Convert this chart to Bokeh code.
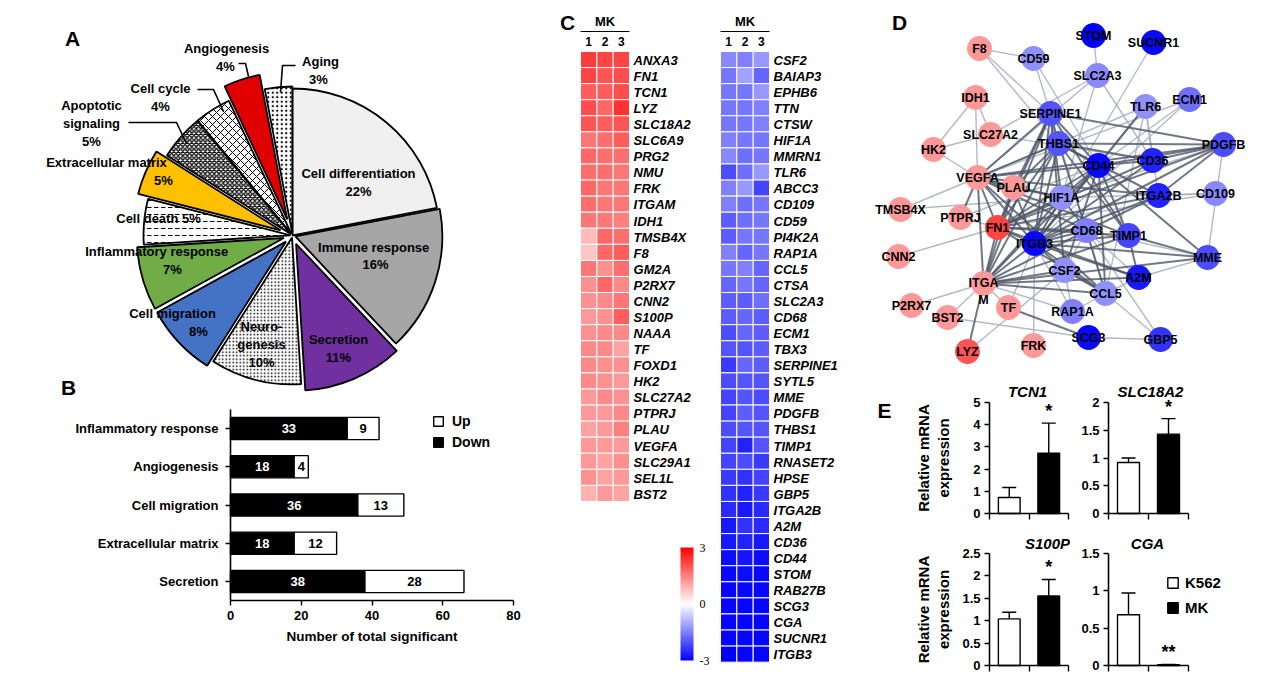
import numpy as np
from bokeh.plotting import figure
from bokeh.models import (Range1d, ColumnDataSource, LinearColorMapper, ColorBar,
                          FixedTicker, Legend, LegendItem, Whisker, TeeHead, LinearAxis,
                          CustomJSTickFormatter)
from bokeh.layouts import row, column
from bokeh.embed import file_html
from bokeh.resources import INLINE
from bokeh.core.properties import value

FONT = "Liberation Sans"

# ======================= DATA =======================
# Panel A: GO categories (pie)
pie_labels = ["Cell differentiation", "Immune response", "Secretion", "Neurogenesis",
              "Cell migration", "Inflammatory response", "Cell death", "Extracellular matrix",
              "Apoptotic signaling", "Cell cycle", "Angiogenesis", "Aging"]
pie_pct = [22, 16, 11, 10, 8, 7, 5, 5, 5, 4, 4, 3]

# Panel B: number of significant genes
bar_cats = ["Inflammatory response", "Angiogenesis", "Cell migration",
            "Extracellular matrix", "Secretion"]
bar_down = [33, 18, 36, 18, 38]
bar_up = [9, 4, 13, 12, 28]
bar_ticks = [0, 20, 40, 60, 80]

# Panel C: heatmaps (MK replicates 1,2,3)
up_genes = ["ANXA3", "FN1", "TCN1", "LYZ", "SLC18A2", "SLC6A9", "PRG2", "NMU", "FRK", "ITGAM",
            "IDH1", "TMSB4X", "F8", "GM2A", "P2RX7", "CNN2", "S100P", "NAAA", "TF", "FOXD1",
            "HK2", "SLC27A2", "PTPRJ", "PLAU", "VEGFA", "SLC29A1", "SEL1L", "BST2"]
up_mk1 = [2.3, 2.2, 1.9, 2.1, 2.0, 1.6, 1.8, 1.7, 1.8, 1.7, 1.6, 0.8, 0.7, 1.6, 1.3, 1.3, 1.2,
          1.3, 1.4, 1.4, 1.4, 1.2, 1.2, 1.1, 1.2, 1.2, 1.3, 0.9]
up_mk2 = [2.2, 2.0, 1.9, 1.8, 1.9, 1.7, 1.7, 1.7, 1.6, 1.6, 1.6, 1.8, 1.8, 1.3, 1.8, 1.4, 1.3,
          1.4, 1.4, 1.3, 1.3, 1.4, 1.2, 1.2, 1.2, 1.1, 1.1, 1.2]
up_mk3 = [2.2, 2.1, 2.1, 2.4, 2.0, 1.9, 1.7, 1.6, 1.6, 1.6, 1.5, 1.7, 1.9, 1.7, 1.4, 1.6, 1.9,
          1.4, 1.1, 1.3, 1.2, 1.3, 1.4, 1.5, 1.2, 1.3, 1.2, 1.1]

down_genes = ["CSF2", "BAIAP3", "EPHB6", "TTN", "CTSW", "HIF1A", "MMRN1", "TLR6", "ABCC3", "CD109",
              "CD59", "PI4K2A", "RAP1A", "CCL5", "CTSA", "SLC2A3", "CD68", "ECM1", "TBX3",
              "SERPINE1", "SYTL5", "MME", "PDGFB", "THBS1", "TIMP1", "RNASET2", "HPSE", "GBP5",
              "ITGA2B", "A2M", "CD36", "CD44", "STOM", "RAB27B", "SCG3", "CGA", "SUCNR1", "ITGB3"]
down_mk1 = [-1.4, -1.6, -1.6, -1.6, -1.6, -1.5, -1.4, -2.1, -1.5, -1.5, -1.9, -1.9, -1.5, -1.6,
            -1.8, -1.9, -1.9, -2.1, -2.0, -2.3, -2.1, -2.2, -2.2, -2.1, -2.2, -2.2, -2.3, -2.4,
            -2.5, -2.7, -2.7, -2.85, -2.9, -2.95, -2.95, -2.95, -2.95, -3.0]
down_mk2 = [-1.5, -1.1, -1.6, -1.6, -1.6, -1.6, -1.7, -1.7, -1.2, -1.7, -1.7, -1.6, -1.8, -1.5,
            -1.6, -1.9, -1.8, -1.8, -2.0, -1.8, -2.0, -2.0, -1.9, -2.0, -2.6, -2.1, -2.4, -2.6,
            -2.7, -2.4, -2.6, -2.75, -2.85, -2.9, -2.95, -2.95, -2.95, -2.95]
down_mk3 = [-1.2, -1.8, -1.2, -1.5, -1.5, -1.6, -1.6, -1.2, -2.2, -1.6, -1.6, -1.6, -1.6, -1.8,
            -1.8, -1.7, -1.9, -1.9, -1.9, -1.9, -2.0, -2.1, -2.0, -2.0, -2.0, -2.3, -2.2, -2.3,
            -2.5, -2.5, -2.7, -2.85, -2.9, -2.9, -2.95, -2.95, -2.95, -2.95]

# Panel D: interaction network (layout position, fold change colour)
net_nodes = ["STOM", "SUCNR1", "F8", "CD59", "SLC2A3", "IDH1", "SERPINE1", "TLR6", "ECM1",
             "SLC27A2", "HK2", "THBS1", "CD44", "CD36", "PDGFB", "VEGFA", "PLAU", "HIF1A",
             "ITGA2B", "CD109", "TMSB4X", "PTPRJ", "FN1", "CD68", "ITGB3", "TIMP1", "MME",
             "CNN2", "CSF2", "A2M", "ITGAM", "CCL5", "P2RX7", "TF", "BST2", "RAP1A", "SCG3",
             "GBP5", "LYZ", "FRK"]
net_x = [1093, 1153, 979, 1033, 1097, 975, 1050, 1145, 1189, 990, 933, 1058, 1098, 1152, 1223,
         977, 1013, 1061, 1158, 1215, 900, 960, 997, 1086, 1034, 1128, 1207, 898, 1064, 1138,
         983, 1105, 911, 1008, 947, 1072, 1088, 1160, 967, 1033]
net_y = [35, 42, 48, 58, 75, 97, 113, 106, 99, 134, 149, 143, 165, 160, 144, 177, 187, 197, 195,
         193, 209, 217, 227, 230, 243, 235, 257, 256, 270, 277, 283, 293, 305, 307, 317, 311,
         337, 339, 351, 345]
net_fc = [-3.0, -2.9, 1.2, -1.3, -1.4, 1.2, -2.0, -1.3, -1.7, 1.2, 1.2, -2.0, -2.9, -2.6, -2.1,
          1.2, 1.2, -1.3, -2.6, -1.4, 1.2, 1.2, 2.2, -1.5, -2.9, -2.2, -2.1, 1.2, -1.3, -2.7,
          1.2, -1.3, 1.2, 1.2, 1.2, -1.5, -2.9, -2.4, 2.0, 1.2]
net_edges_strong = [
    ("ITGB3", "FN1"), ("ITGB3", "VEGFA"), ("ITGB3", "SERPINE1"), ("ITGB3", "THBS1"),
    ("ITGB3", "CD44"), ("ITGB3", "CD36"), ("ITGB3", "PDGFB"), ("ITGB3", "ITGA2B"),
    ("ITGB3", "HIF1A"), ("ITGB3", "PLAU"), ("ITGB3", "ITGAM"), ("ITGB3", "CD68"),
    ("ITGB3", "TIMP1"), ("ITGB3", "MME"), ("ITGB3", "A2M"), ("ITGB3", "CCL5"),
    ("ITGB3", "CSF2"), ("ITGB3", "TLR6"),
    ("FN1", "VEGFA"), ("FN1", "SERPINE1"), ("FN1", "THBS1"), ("FN1", "CD44"), ("FN1", "ITGAM"),
    ("FN1", "PLAU"), ("FN1", "HIF1A"), ("FN1", "CD68"), ("FN1", "TIMP1"), ("FN1", "ITGA2B"),
    ("FN1", "PDGFB"), ("FN1", "A2M"), ("FN1", "CCL5"), ("FN1", "CD36"),
    ("VEGFA", "SERPINE1"), ("VEGFA", "THBS1"), ("VEGFA", "PLAU"), ("VEGFA", "HIF1A"),
    ("VEGFA", "CD44"), ("VEGFA", "ITGAM"), ("VEGFA", "PDGFB"), ("VEGFA", "ITGA2B"),
    ("VEGFA", "TIMP1"), ("VEGFA", "CD68"), ("VEGFA", "PTPRJ"), ("VEGFA", "CCL5"),
    ("SERPINE1", "THBS1"), ("SERPINE1", "PLAU"), ("SERPINE1", "HIF1A"), ("SERPINE1", "CD44"),
    ("SERPINE1", "TIMP1"), ("SERPINE1", "ITGAM"), ("SERPINE1", "PDGFB"), ("SERPINE1", "CSF2"),
    ("THBS1", "CD44"), ("THBS1", "CD36"), ("THBS1", "PDGFB"), ("THBS1", "PLAU"),
    ("THBS1", "TIMP1"), ("THBS1", "ITGA2B"), ("THBS1", "ITGAM"), ("THBS1", "CD68"),
    ("CD44", "HIF1A"), ("CD44", "ITGAM"), ("CD44", "CCL5"), ("CD44", "TIMP1"), ("CD44", "MME"),
    ("CD44", "CSF2"), ("CD44", "CD36"), ("CD44", "PDGFB"),
    ("ITGAM", "CD68"), ("ITGAM", "TIMP1"), ("ITGAM", "CCL5"), ("ITGAM", "CSF2"),
    ("ITGAM", "PLAU"), ("ITGAM", "A2M"), ("ITGAM", "LYZ"), ("ITGAM", "HIF1A"), ("ITGAM", "MME"),
    ("CD36", "PDGFB"), ("ITGA2B", "PDGFB"), ("ITGA2B", "CD68"), ("HIF1A", "CD68"),
    ("TIMP1", "A2M"), ("CCL5", "CSF2"), ("TF", "SCG3"), ("CD68", "CCL5"), ("TIMP1", "MME"),
    ("PLAU", "HIF1A")]
net_edges_weak = [
    ("F8", "CD59"), ("F8", "SERPINE1"), ("F8", "THBS1"), ("STOM", "SLC2A3"), ("SUCNR1", "ITGB3"),
    ("CD59", "CD44"), ("SLC2A3", "VEGFA"), ("SLC2A3", "HIF1A"), ("SLC2A3", "CD36"),
    ("IDH1", "HK2"), ("IDH1", "SLC27A2"), ("IDH1", "VEGFA"), ("SLC27A2", "HK2"),
    ("SLC27A2", "CD36"), ("SLC27A2", "SLC2A3"), ("HK2", "VEGFA"), ("TLR6", "CD36"),
    ("TLR6", "CD44"), ("TLR6", "CCL5"), ("TLR6", "VEGFA"), ("ECM1", "CD44"), ("ECM1", "ITGB3"),
    ("CD109", "ITGA2B"), ("CD109", "FN1"), ("TMSB4X", "VEGFA"), ("TMSB4X", "HIF1A"),
    ("PTPRJ", "FN1"), ("PTPRJ", "CD44"), ("CNN2", "FN1"), ("P2RX7", "ITGAM"), ("BST2", "ITGAM"),
    ("BST2", "SCG3"), ("TF", "ITGAM"), ("TF", "ITGB3"), ("FRK", "ITGB3"), ("LYZ", "CSF2"),
    ("RAP1A", "ITGAM"), ("RAP1A", "CSF2"), ("RAP1A", "CCL5"), ("RAP1A", "ITGB3"),
    ("CCL5", "GBP5"), ("SCG3", "GBP5"), ("GBP5", "CD68"), ("MME", "CD68"), ("MME", "A2M"),
    ("A2M", "CD68"), ("A2M", "CCL5"), ("CSF2", "CD68"), ("PDGFB", "HIF1A"), ("PDGFB", "MME"),
    ("CD109", "HIF1A"), ("TLR6", "ITGA2B"), ("CD59", "CCL5"), ("ECM1", "VEGFA")]

# Panel E: qPCR
qpcr_genes = ["TCN1", "SLC18A2", "S100P", "CGA"]
qpcr_groups = ["K562", "MK"]
qpcr_k562_mean = [0.72, 0.92, 1.04, 0.68]
qpcr_k562_sd = [0.45, 0.08, 0.15, 0.29]
qpcr_mk_mean = [2.72, 1.43, 1.55, 0.01]
qpcr_mk_sd = [1.35, 0.28, 0.37, 0.005]
qpcr_sig = ["*", "*", "*", "**"]
qpcr_ymax = [5, 2, 2.5, 1.5]
qpcr_ystep = [1, 0.5, 0.5, 0.5]

# ======================= STYLE HELPERS =======================
def bwr(n=256):
    cols = []
    for t in np.linspace(0, 1, n):
        if t < 0.5:
            f = t / 0.5
            r = g = int(round(255 * f)); b = 255
        else:
            f = (1 - t) / 0.5
            r = 255; g = b = int(round(255 * f))
        cols.append("#%02x%02x%02x" % (r, g, b))
    return cols

mapper = LinearColorMapper(palette=bwr(), low=-3, high=3)

def canvas(w, h, xr, yr):
    p = figure(width=w, height=h, x_range=Range1d(*xr), y_range=Range1d(*yr),
               x_axis_location=None, y_axis_location=None, min_border=0,
               output_backend="svg", toolbar_location=None)
    p.outline_line_color = None
    p.background_fill_color = "white"
    p.border_fill_color = "white"
    p.xgrid.visible = False
    p.ygrid.visible = False
    p.grid.visible = False
    return p

def txt(p, xs, ys, texts, size="13px", style="bold", color="black", align="center",
        baseline="middle", font=FONT):
    p.text(x=list(xs), y=list(ys), text=list(texts), text_font=value(font),
           text_font_style=style, text_font_size=size, text_color=color,
           text_align=align, text_baseline=baseline)

def style_axis(ax, label_size="13px", tick_out=5):
    ax.axis_line_width = 1.6
    ax.axis_line_color = "black"
    ax.major_tick_line_width = 1.4
    ax.major_tick_line_color = "black"
    ax.minor_tick_line_color = None
    ax.major_tick_out = tick_out
    ax.major_tick_in = 0
    ax.major_label_text_font = FONT
    ax.major_label_text_font_style = "bold"
    ax.major_label_text_font_size = label_size
    ax.major_label_text_color = "black"
    ax.axis_label_text_font = FONT
    ax.axis_label_text_font_style = "bold"
    ax.axis_label_text_color = "black"

def pix_ranges(left, top, w, h, x0px, sx, y0px, sy):
    """data ranges so that value 0 sits at page pixel (x0px, y0px), sx/sy px per unit"""
    xr = ((left - x0px) / sx, (left + w - x0px) / sx)
    yr = ((y0px - (top + h)) / sy, (y0px - top) / sy)
    return xr, yr

# ======================= PANEL A (pie) =======================
pA = canvas(560, 398, (0, 560), (-398, 0))
frac = np.array(pie_pct, float) / sum(pie_pct)
cum = np.concatenate([[0], np.cumsum(frac)])
start = np.pi / 2 - 2 * np.pi * cum[1:]
end = np.pi / 2 - 2 * np.pi * cum[:-1]
mid = (start + end) / 2
explode = np.array([0, 3, 9, 2, 9, 9, 2, 13, 2, 2, 17, 2], float)
PCX, PCY, PR = 292, -235, 147
fills = ["#f0f0f0", "#a6a6a6", "#7030a0", "white", "#4472c4", "#70ad47", "white", "#ffc000",
         "white", "white", "#e00000", "white"]
hatches = [" ", " ", " ", "dot", " ", " ", "horizontal_dash", " ", "diagonal_cross",
           "diagonal_cross", " ", "dot"]
hscale = [6, 6, 6, 3.5, 6, 6, 7, 6, 4.5, 8, 6, 4.5]
hweight = [1, 1, 1, 1.1, 1, 1, 1, 1, 1.4, 1, 1, 1.2]
srcA = ColumnDataSource(dict(cx=PCX + explode * np.cos(mid), cy=PCY + explode * np.sin(mid),
                             start=start, end=end, fill=fills, hatch=hatches,
                             hs=hscale, hw=hweight))
pA.wedge(x="cx", y="cy", radius=PR, start_angle="start", end_angle="end",
         direction="anticlock", fill_color="fill", line_color="black", line_width=1.8,
         hatch_pattern="hatch", hatch_scale="hs", hatch_weight="hw", hatch_color="black",
         source=srcA)

# label layout (page-pixel coordinates)
name_disp = {"Neurogenesis": "Neuro-\ngenesis", "Apoptotic signaling": "Apoptotic\nsignaling",
             "Immune response": "Immune  response",
             "Inflammatory response": "Inflammatory  response"}
name_pos = [(358, 173), (375, 247), (338, 339), (261, 335), (172, 313), (158, 251), (158, 218),
            (106, 162), (91, 114), (160, 88), (226, 48), (320, 61)]
pct_pos = [(358, 191), (375, 264), (338, 357), (261, 362), (198, 331), (172, 269), None,
           (163, 180), (91, 141), (160, 106), (225, 66), (318, 79)]
tx, ty, tt = [], [], []
for lab, pc, npos, ppos in zip(pie_labels, pie_pct, name_pos, pct_pos):
    s = name_disp.get(lab, lab)
    if ppos is None:
        s = f"{s} {pc}%"
    tx.append(npos[0]); ty.append(-npos[1]); tt.append(s)
    if ppos is not None:
        tx.append(ppos[0]); ty.append(-ppos[1]); tt.append(f"{pc}%")
txt(pA, tx, ty, tt, size="13px")

leaders_x = [[238, 245, 248], [295, 282, 280], [197, 213, 223], [128, 176, 186]]
leaders_y = [[63, 63, 76], [65, 65, 92], [89, 89, 111], [122, 122, 143]]
pA.multi_line(xs=leaders_x, ys=[[-v for v in l] for l in leaders_y], line_color="black",
              line_width=1.6)
txt(pA, [72, 68], [-38, -387], ["A", "B"], size="21px")

# ======================= PANEL B (bars) =======================
# page geometry: x=0 at px 230, 80 at px 513; category rows centred at 428 + 38.25*i
B_X0, B_SX = 230, (513 - 230) / 80.0
B_Y0, B_SY = 428, 38.25
pB = canvas(560, 286, ((0 - B_X0) / B_SX, (560 - B_X0) / B_SX),
            ((684 - B_Y0) / B_SY, (398 - B_Y0) / B_SY))
ypos = np.arange(len(bar_cats), dtype=float)
down_a = np.array(bar_down, float); up_a = np.array(bar_up, float)
srcB = ColumnDataSource(dict(y=ypos, down=down_a, up=up_a, dmid=down_a / 2,
                             umid=down_a + up_a / 2, dtxt=[str(v) for v in bar_down],
                             utxt=[str(v) for v in bar_up]))
rB = pB.hbar_stack(["down", "up"], y="y", height=0.58, fill_color=["black", "white"],
                   line_color="black", line_width=1.4, source=srcB)
for col, tcol, c in (("dmid", "dtxt", "white"), ("umid", "utxt", "black")):
    pB.text(x=col, y="y", text=tcol, source=srcB, text_color=c,
            text_font=value(FONT), text_font_style="bold", text_font_size="13px",
            text_align="center", text_baseline="middle")
legB = Legend(items=[LegendItem(label="Up", renderers=[rB[1]]),
                     LegendItem(label="Down", renderers=[rB[0]])],
              location=(432, 234), label_text_font=FONT, label_text_font_style="bold",
              label_text_font_size="14px", label_text_color="black",
              glyph_width=12, glyph_height=12, spacing=5,
              padding=0, margin=0, border_line_color=None, background_fill_alpha=0,
              label_standoff=8, label_height=16)
pB.add_layout(legB)
n_b = len(bar_cats)
xaxB = LinearAxis(fixed_location=n_b - 0.5, bounds=(bar_ticks[0], bar_ticks[-1]),
                  ticker=FixedTicker(ticks=bar_ticks), axis_label="Number of total significant")
style_axis(xaxB)
xaxB.axis_label_text_font_size = "13.5px"
xaxB.axis_label_standoff = 6
pB.add_layout(xaxB, "below")
yaxB = LinearAxis(fixed_location=0, bounds=(-0.5, n_b - 0.5),
                  ticker=FixedTicker(ticks=list(ypos)),
                  formatter=CustomJSTickFormatter(args=dict(names=bar_cats),
                                                  code="return names[Math.round(tick)] || ''"))
style_axis(yaxB)
yaxB.major_label_standoff = 7
pB.add_layout(yaxB, "left")

# ======================= PANEL C (heatmaps) =======================
pC = canvas(290, 684, (560, 850), (684, 0))
CW, RH, TOP = 16.35, 16.07, 51

def heat(genes, reps, x0):
    vals = np.array(reps, float).T
    n = len(genes)
    ii, jj = np.meshgrid(np.arange(n), np.arange(3), indexing="ij")
    src = ColumnDataSource(dict(x=x0 + (jj.ravel() + 0.5) * CW, y=TOP + (ii.ravel() + 0.5) * RH,
                                v=vals.ravel()))
    pC.rect("x", "y", width=CW, height=RH, source=src,
            fill_color={"field": "v", "transform": mapper}, line_color="white", line_width=1)
    txt(pC, [x0 + 3 * CW + 4] * n, TOP + (np.arange(n) + 0.55) * RH, genes, size="13px",
        style="bold italic", align="left")
    txt(pC, [x0 + 1.5 * CW], [21], ["MK"], size="13px")
    pC.line(x=[x0, x0 + 3 * CW], y=[31, 31], line_color="black", line_width=1.2)
    txt(pC, x0 + (np.arange(3) + 0.5) * CW, [41] * 3, ["1", "2", "3"], size="12px")

heat(up_genes, [up_mk1, up_mk2, up_mk3], 580)
heat(down_genes, [down_mk1, down_mk2, down_mk3], 720)
txt(pC, [567], [22], ["C"], size="21px")
cb = ColorBar(color_mapper=mapper, location=(120, 24), width=13, height=113, padding=0,
              margin=0, ticker=FixedTicker(ticks=[-3, 0, 3]),
              formatter=CustomJSTickFormatter(code="return tick.toFixed(0)"),
              major_label_text_font="Liberation Serif", major_label_text_font_size="12px",
              major_label_text_color="black",
              major_tick_line_color=None, minor_tick_line_color=None, bar_line_color=None,
              border_line_color=None, background_fill_alpha=0, label_standoff=6)
pC.add_layout(cb)

# ======================= PANEL D (network) =======================
pD = canvas(412, 370, (850, 1262), (370, 0))
nx_a = np.array(net_x, float); ny_a = np.array(net_y, float)
nid = {n: i for i, n in enumerate(net_nodes)}

def edge_src(edges):
    a = [nid[e[0]] for e in edges]; b = [nid[e[1]] for e in edges]
    return ColumnDataSource(dict(x0=nx_a[a], y0=ny_a[a], x1=nx_a[b], y1=ny_a[b]))

pD.segment("x0", "y0", "x1", "y1", source=edge_src(net_edges_weak), line_color="#a8adbb",
           line_alpha=0.85, line_width=1.4)
pD.segment("x0", "y0", "x1", "y1", source=edge_src(net_edges_strong), line_color="#4e5667",
           line_alpha=0.8, line_width=2.0)
srcD = ColumnDataSource(dict(x=nx_a, y=ny_a, fc=net_fc))
pD.circle("x", "y", radius=12.5, source=srcD, fill_color={"field": "fc", "transform": mapper},
          line_color=None)
lab_disp = {"ITGAM": "ITGA\nM"}
lab_dy = {"ITGAM": 8}
txt(pD, nx_a, [y + lab_dy.get(n, 0) for n, y in zip(net_nodes, ny_a)],
    [lab_disp.get(n, n) for n in net_nodes], size="12.5px")
txt(pD, [899], [22], ["D"], size="21px")

# ======================= PANEL E (qPCR) =======================
def qpcr(i, left, top, w, h, x0px, sx, y0px, ymax_px, title_px, ylabel, lab_standoff):
    ymax, step = qpcr_ymax[i], qpcr_ystep[i]
    sy = (y0px - ymax_px) / ymax
    xr, yr = pix_ranges(left, top, w, h, x0px, sx, y0px, sy)
    p = canvas(w, h, xr, yr)
    means = np.array([qpcr_k562_mean[i], qpcr_mk_mean[i]])
    sds = np.array([qpcr_k562_sd[i], qpcr_mk_sd[i]])
    src = ColumnDataSource(dict(x=np.arange(2) + 0.5, mean=means, upper=means + sds,
                                fill=["white", "black"], grp=qpcr_groups))
    r = p.vbar(x="x", top="mean", width=0.55, fill_color="fill", line_color="black",
               line_width=1.4, source=src)
    p.add_layout(Whisker(source=src, base="x", upper="upper", lower="mean",
                         dimension="height", line_width=1.4, line_color="black",
                         upper_head=TeeHead(size=14, line_width=1.4, line_color="black"),
                         lower_head=None))
    p.text(x=[1.5], y=[means[1] + sds[1]], text=[qpcr_sig[i]], y_offset=-2,
           text_font=value(FONT), text_font_style="bold", text_font_size="18px",
           text_align="center", text_baseline="bottom")
    # gene title
    txt(p, [(title_px[0] - x0px) / sx], [(y0px - title_px[1]) / sy], [qpcr_genes[i]],
        size="15px", style="bold italic")
    xax = LinearAxis(fixed_location=0, bounds=(0, 2), ticker=FixedTicker(ticks=[0, 1, 2]),
                     formatter=CustomJSTickFormatter(code="return ''"))
    style_axis(xax, tick_out=6)
    xax.major_label_standoff = 0
    p.add_layout(xax, "below")
    yax = LinearAxis(fixed_location=0, bounds=(0, ymax),
                     ticker=FixedTicker(ticks=list(np.arange(0, ymax + step / 2, step))),
                     formatter=CustomJSTickFormatter(
                         code="return String(Math.round(tick*10)/10)"))
    style_axis(yax)
    yax.major_label_standoff = 4
    if ylabel:
        yax.axis_label = "Relative mRNA\nexpression"
        yax.axis_label_text_font_size = "15px"
        yax.axis_label_standoff = lab_standoff
    p.add_layout(yax, "left")
    return p, r, sx, sy, x0px, y0px

e1, _, sx1, sy1, x01, y01 = qpcr(0, 850, 370, 220, 160, 989, 39.5, 513, 402, (1027, 391),
                                 True, 18)
e2, _, _, _, _, _ = qpcr(1, 1070, 370, 192, 160, 1108, 40.0, 513, 402, (1150, 391), False, 0)
e3, _, _, _, _, _ = qpcr(2, 850, 530, 220, 154, 989, 39.5, 665, 553, (1047, 543), True, 7)
e4, r4, _, _, _, _ = qpcr(3, 1070, 530, 192, 154, 1108, 40.0, 665, 553, (1147, 543),
                          False, 0)
legE = Legend(items=[LegendItem(label=qpcr_groups[0], renderers=[r4], index=0),
                     LegendItem(label=qpcr_groups[1], renderers=[r4], index=1)],
              location=(96, 68), label_text_font=FONT, label_text_font_style="bold",
              label_text_font_size="15px", label_text_color="black",
              glyph_width=13, glyph_height=13, spacing=8,
              padding=0, margin=0, border_line_color=None, background_fill_alpha=0,
              label_standoff=6, label_height=17)
e4.add_layout(legE)
txt(e1, [(884 - x01) / sx1], [(y01 - 410) / sy1], ["E"], size="21px")

layout = row(column(pA, pB), pC, column(pD, row(e1, e2), row(e3, e4)))
open("out.html", "w").write(file_html(layout, INLINE))
